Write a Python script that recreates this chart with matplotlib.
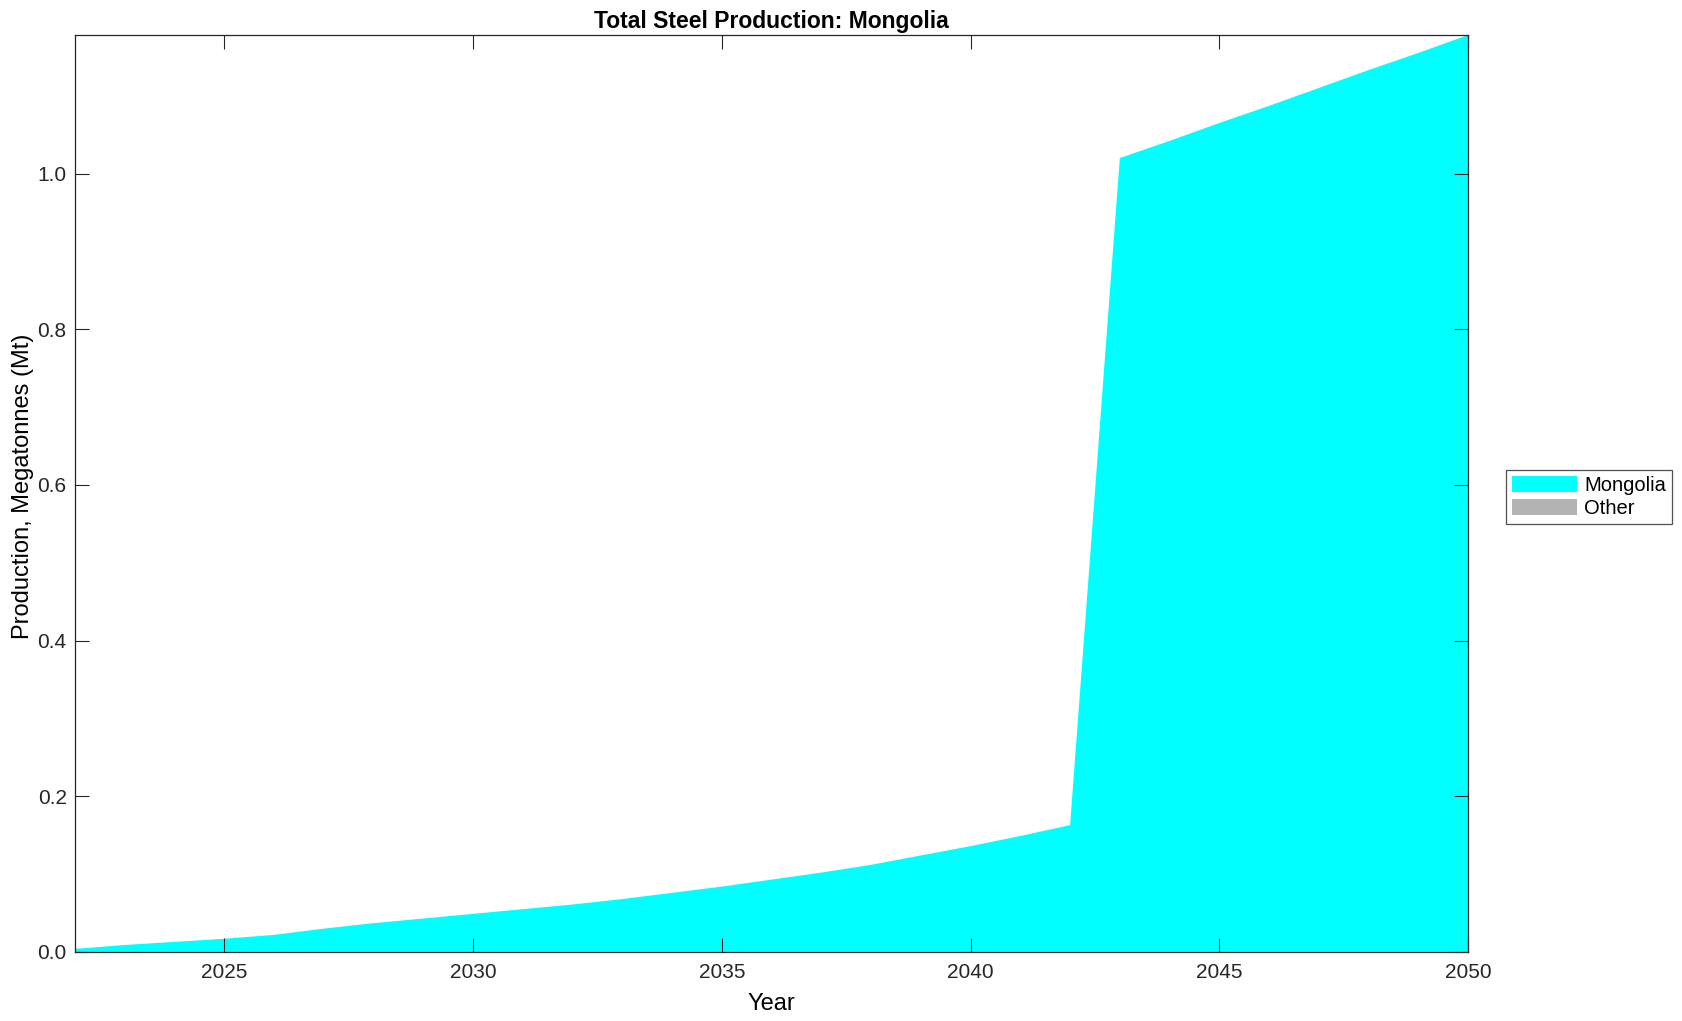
import matplotlib.pyplot as plt
import numpy as np
from matplotlib.ticker import FormatStrFormatter

plt.rcParams['font.family'] = ['Liberation Sans', 'DejaVu Sans']

years = list(range(2022, 2051))
mongolia = [0.004, 0.009, 0.013, 0.017, 0.022, 0.030, 0.037, 0.043, 0.049, 0.055,
            0.061, 0.068, 0.076, 0.084, 0.093, 0.102, 0.112, 0.124, 0.136, 0.149,
            0.163, 1.020, 1.042, 1.065, 1.087, 1.110, 1.133, 1.155, 1.178]
other = [0.0] * len(years)
labels = ["Mongolia", "Other"]
colors = ["#00ffff", "#b3b3b3"]

fig = plt.figure(figsize=(16.83, 10.21), dpi=100)
ax = fig.add_axes([0.0446, 0.0676, 0.8277, 0.8981])

ax.stackplot(years, mongolia, other, labels=labels, colors=colors, linewidth=0)

ax.set_xlim(2022, 2050)
ax.set_ylim(0, max(mongolia))
ax.set_xticks(range(2025, 2051, 5))
ax.set_yticks(np.arange(0, 1.01, 0.2))
ax.yaxis.set_major_formatter(FormatStrFormatter('%.1f'))
ax.tick_params(direction='in', length=10, width=0.8, top=True, right=True,
               labelsize=15, colors='#262626', labelcolor='#262626')
ax.tick_params(axis='y', pad=6)
ax.tick_params(axis='x', pad=8)
for s in ax.spines.values():
    s.set_linewidth(0.9)
    s.set_color('#262626')

ax.set_title("Total Steel Production: Mongolia", fontsize=16.5, fontweight='bold', pad=5)
ax.set_xlabel("Year", fontsize=17, labelpad=8)
ax.set_ylabel("Production, Megatonnes (Mt)", fontsize=17)
ax.yaxis.set_label_coords(-0.0294, 0.508)

leg = ax.legend(loc='center left', bbox_to_anchor=(1.027, 0.496), fontsize=14.5,
                frameon=True, fancybox=False, edgecolor='#262626',
                handlelength=3.25, handleheight=0.85, borderpad=0.3, labelspacing=0.2,
                handletextpad=0.35, borderaxespad=0)
leg.get_frame().set_linewidth(0.9)

fig.savefig("out.png", dpi=100)
